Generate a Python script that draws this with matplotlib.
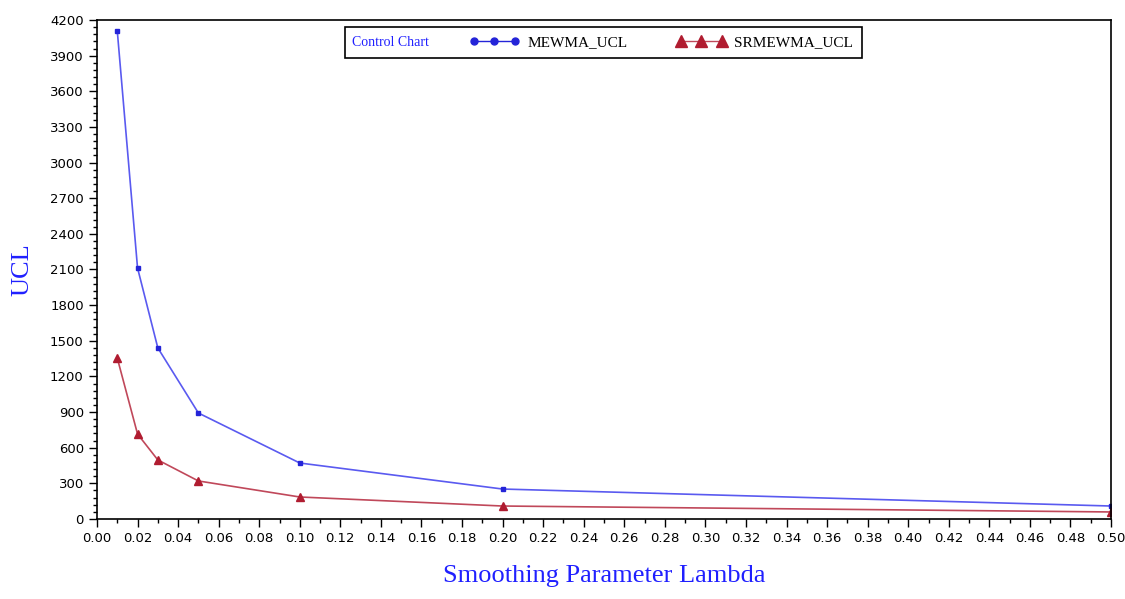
import matplotlib.pyplot as plt
from matplotlib.lines import Line2D
from matplotlib.patches import Rectangle
from matplotlib.ticker import MultipleLocator

# data
lam = [0.01, 0.02, 0.03, 0.05, 0.10, 0.20, 0.50]
mewma_ucl = [4110, 2113, 1440, 892, 471, 252, 109]
srmewma_ucl = [1355, 715, 497, 320, 185, 109, 59]

blue_line = '#5a5af0'
blue_mark = '#2424d8'
red_line = '#c0485a'
red_mark = '#b01c30'

fig = plt.figure(figsize=(11.25, 5.99), dpi=100)
ax = fig.add_axes([0.0862, 0.1336, 0.9014, 0.833])

ax.plot(lam, mewma_ucl, color=blue_line, lw=1.2, marker='s', ms=3,
        mfc=blue_mark, mec=blue_mark)
ax.plot(lam, srmewma_ucl, color=red_line, lw=1.2, marker='^', ms=6,
        mfc=red_mark, mec=red_mark)

ax.set_xlim(0, 0.5)
ax.set_ylim(0, 4200)
ax.xaxis.set_major_locator(MultipleLocator(0.02))
ax.xaxis.set_minor_locator(MultipleLocator(0.01))
ax.yaxis.set_major_locator(MultipleLocator(300))
ax.yaxis.set_minor_locator(MultipleLocator(60))
ax.xaxis.set_major_formatter(lambda v, p: f'{v:.2f}')
ax.tick_params(which='major', direction='out', length=6, width=1, labelsize=9.5)
ax.tick_params(which='minor', direction='out', length=3, width=1)
for s in ax.spines.values():
    s.set_linewidth(1.2)

ax.set_xlabel('Smoothing Parameter Lambda', family='Liberation Serif',
              fontsize=19, color='#2020ff', labelpad=14)
ax.set_ylabel('UCL', family='Liberation Serif', fontsize=19,
              color='#2020ff', labelpad=12)

# legend box with "Control Chart" caption
box = Rectangle((0.2446, 0.9238), 0.5098, 0.0622, transform=ax.transAxes,
                fill=True, facecolor='white', edgecolor='black', lw=1.2,
                zorder=5)
ax.add_patch(box)
ax.text(0.2515, 0.955, 'Control Chart', transform=ax.transAxes,
        family='Liberation Serif', fontsize=10, color='#2020ff',
        va='center', ha='left', zorder=6)

handles = [
    Line2D([], [], color=blue_mark, lw=1, marker='o', ms=5),
    Line2D([], [], color=red_line, lw=1, marker='^', ms=9,
           mfc=red_mark, mec=red_mark),
]
labels = ['MEWMA_UCL', 'SRMEWMA_UCL']
leg = ax.legend(handles, labels, ncol=2, loc='center left',
                bbox_to_anchor=(0.3669, 0.955), numpoints=3, handlelength=3.3,
                handletextpad=0.5, columnspacing=3.2, frameon=False,
                borderpad=0, borderaxespad=0,
                prop={'family': 'Liberation Serif', 'size': 11})
leg.set_zorder(7)

fig.savefig('out.png', dpi=100)
